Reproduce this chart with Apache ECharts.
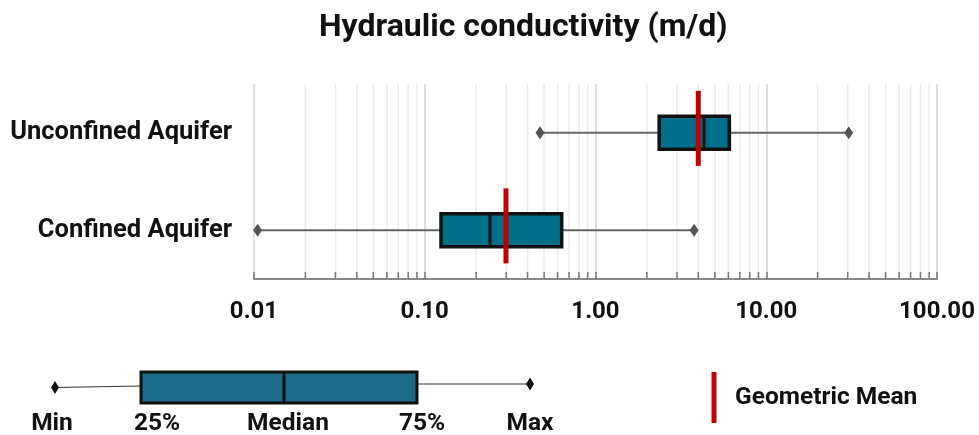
<!DOCTYPE html>
<html>
<head>
<meta charset="utf-8">
<script src="https://cdn.jsdelivr.net/npm/echarts@6/dist/echarts.min.js"></script>
<style>
html, body { margin: 0; padding: 0; background: #fff; }
#chart { width: 979px; height: 435px; }
</style>
</head>
<body>
<div id="chart"></div>
<script>
// categories, bottom to top on the y axis
const categories = ['Confined Aquifer', 'Unconfined Aquifer'];
const minVals = [0.0105, 0.473];
const q1Vals = [0.1245, 2.36];
const medianVals = [0.241, 4.32];
const q3Vals = [0.634, 6.08];
const maxVals = [3.78, 30.4];
const geoMeanVals = [0.299, 4.0];
const tickLabels = ['0.01', '0.10', '1.00', '10.00', '100.00'];
const legendLabels = ['Min', '25%', 'Median', '75%', 'Max'];

var FONT = 'Roboto';
var TEXT = '#111';
var BOX_COLOR = '#00708a';
var RED = '#c00000';

// light grid lines at 2..9 of every decade
var minorLines = [];
for (var d = 0.01; d < 99; d *= 10) {
    for (var k = 2; k <= 9; k++) {
        minorLines.push([+(k * d).toPrecision(2)]);
    }
}

var boxData = categories.map(function (c, i) {
    return [i, minVals[i], q1Vals[i], medianVals[i], q3Vals[i], maxVals[i], geoMeanVals[i]];
});

function diamond(x, y, w, h, color) {
    return {
        type: 'polygon',
        shape: { points: [[x, y - h / 2], [x + w / 2, y], [x, y + h / 2], [x - w / 2, y]] },
        style: { fill: color }
    };
}

function renderGrid(params, api) {
    var cs = params.coordSys;
    var x = api.coord([api.value(0), 0])[0];
    var bottom = cs.y + cs.height;
    return {
        type: 'group',
        children: [
            { type: 'line', shape: { x1: x, y1: cs.y, x2: x, y2: bottom }, style: { stroke: '#ebebeb', lineWidth: 1.5 } },
            { type: 'line', shape: { x1: x, y1: bottom - 7, x2: x, y2: bottom }, style: { stroke: '#777', lineWidth: 1.5 } }
        ]
    };
}

function renderBox(params, api) {
    var cat = api.value(0);
    var pMin = api.coord([api.value(1), cat]);
    var pQ1 = api.coord([api.value(2), cat]);
    var pMed = api.coord([api.value(3), cat]);
    var pQ3 = api.coord([api.value(4), cat]);
    var pMax = api.coord([api.value(5), cat]);
    var pGm = api.coord([api.value(6), cat]);
    var band = api.size([0, 1], [1, cat])[1];
    var y = pQ1[1];
    var h = band * 0.17;
    return {
        type: 'group',
        children: [
            { type: 'line', shape: { x1: pMin[0], y1: y, x2: pMax[0], y2: y }, style: { stroke: '#666', lineWidth: 2 } },
            diamond(pMin[0], y, 9, 13, '#555'),
            diamond(pMax[0], y, 9, 13, '#555'),
            { type: 'rect', shape: { x: pQ1[0], y: y - h, width: pQ3[0] - pQ1[0], height: 2 * h }, style: { fill: BOX_COLOR, stroke: '#111', lineWidth: 3.5 } },
            { type: 'line', shape: { x1: pMed[0], y1: y - h, x2: pMed[0], y2: y + h }, style: { stroke: '#111', lineWidth: 3 } },
            { type: 'line', shape: { x1: pGm[0], y1: y - band * 0.43, x2: pGm[0], y2: y + band * 0.34 }, style: { stroke: RED, lineWidth: 5 } }
        ]
    };
}

// key drawn under the plot
var legendX = [52, 157, 288, 422, 530];
var legendFont = 'bold 24.5px ' + FONT;
var legendGraphic = [
    { type: 'line', shape: { x1: 55, y1: 387.5, x2: 141, y2: 386 }, style: { stroke: '#333', lineWidth: 1.2 } },
    { type: 'line', shape: { x1: 417, y1: 384, x2: 530, y2: 384 }, style: { stroke: '#333', lineWidth: 1.2 } },
    { type: 'rect', shape: { x: 141, y: 372, width: 276, height: 31 }, style: { fill: '#1b6b87', stroke: '#111', lineWidth: 3 } },
    { type: 'line', shape: { x1: 284, y1: 372, x2: 284, y2: 403 }, style: { stroke: '#111', lineWidth: 3 } },
    diamond(55, 387.5, 8, 13, '#111'),
    diamond(530, 384, 8, 13, '#111'),
    { type: 'line', shape: { x1: 714, y1: 372, x2: 714, y2: 423 }, style: { stroke: RED, lineWidth: 5 } },
    { type: 'text', x: 735, y: 398, style: { text: 'Geometric Mean', font: legendFont, fill: TEXT, verticalAlign: 'middle' } }
];
legendLabels.forEach(function (t, i) {
    legendGraphic.push({ type: 'text', x: legendX[i], y: 424, style: { text: t, font: legendFont, fill: TEXT, align: 'center', verticalAlign: 'middle' } });
});

var chart = echarts.init(document.getElementById('chart'));
chart.setOption({
    animation: false,
    title: {
        text: 'Hydraulic conductivity (m/d)',
        left: 314,
        top: 7,
        textStyle: { fontFamily: FONT, fontSize: 32, fontWeight: 'bold', color: TEXT }
    },
    grid: { left: 254, right: 42, top: 84, bottom: 156 },
    xAxis: {
        type: 'log',
        logBase: 10,
        min: 0.01,
        max: 100,
        axisLine: { show: true, lineStyle: { color: '#888', width: 2 } },
        axisTick: { show: true, inside: true, length: 7, lineStyle: { color: '#777', width: 1.5 } },
        splitLine: { show: true, lineStyle: { color: '#d4d4d4', width: 1.5 } },
        axisLabel: {
            margin: 21,
            fontFamily: FONT, fontSize: 24, fontWeight: 'bold', color: TEXT,
            formatter: function (v, i) { return tickLabels[i] != null ? tickLabels[i] : v.toFixed(2); }
        }
    },
    yAxis: {
        type: 'category',
        data: categories,
        axisLine: { show: false },
        axisTick: { show: false },
        splitLine: { show: false },
        axisLabel: { margin: 22, fontFamily: FONT, fontSize: 25.5, fontWeight: 'bold', color: TEXT }
    },
    graphic: legendGraphic,
    series: [
        {
            type: 'custom',
            name: 'grid',
            renderItem: renderGrid,
            data: minorLines,
            encode: { x: 0 },
            silent: true,
            z: 1
        },
        {
            type: 'custom',
            name: 'box',
            renderItem: renderBox,
            data: boxData,
            encode: { y: 0, x: [1, 2, 3, 4, 5, 6] },
            clip: false,
            z: 5
        }
    ]
});
</script>
</body>
</html>
